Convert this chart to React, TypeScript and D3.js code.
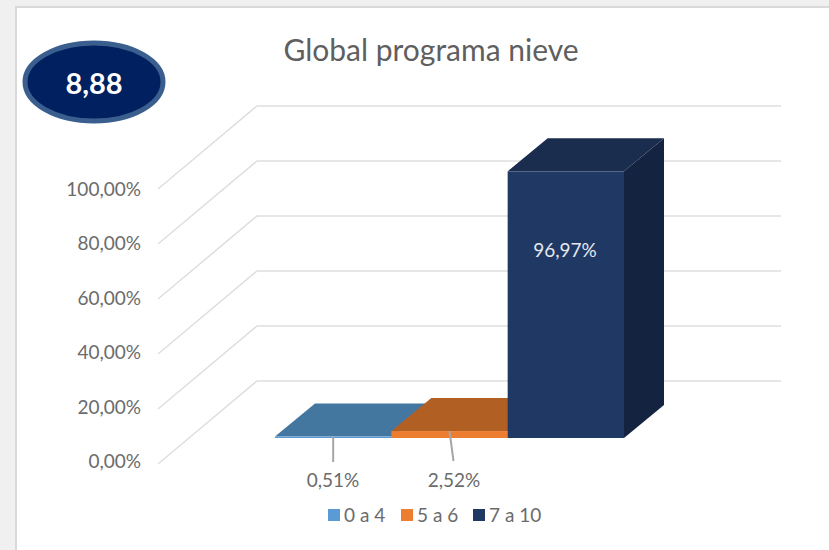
import React from 'react';
import * as d3 from 'd3';

const title = 'Global programa nieve';
const badge = '8,88';
const categories = ['0 a 4', '5 a 6', '7 a 10'];
const values = [0.51, 2.52, 96.97];
const valueLabels = ['0,51%', '2,52%', '96,97%'];
const tickValues = [0, 20, 40, 60, 80, 100];
const tickLabels = ['0,00%', '20,00%', '40,00%', '60,00%', '80,00%', '100,00%'];
const frontColors = ['#5b9bd5', '#ed7d31', '#1f3864'];
const topColors = ['#44779f', '#b25f24', '#1a2d4f'];
const sideColors = ['#3c6a90', '#9c5220', '#14233f'];
const legendColors = ['#5b9bd5', '#ed7d31', '#1f3864'];

const width = 829;
const height = 550;

// back wall of the 3d box
const wallY = d3.scaleLinear().domain([0, 100]).range([381, 106]);
const wallLeft = 257;
const wallRight = 781;
const wallDx = -99;
const wallDy = 83;

// bars stand in the middle of the floor
const barBase = 438;
const barY = d3.scaleLinear().domain([0, 100]).range([barBase, barBase - 275]);
const barX = d3.scaleBand().domain(categories).range([275, 624]);
const barDx = 40;
const barDy = -33;

const labelY = d3.scaleLinear().domain([0, 100]).range([460, 188]);

const poly = (pts: [number, number][]) => pts.map(p => p.join(',')).join(' ');

const TEXT = 'Lato, sans-serif';

export default function App() {
  const w = barX.bandwidth();
  return (
    <svg width={width} height={height} style={{ position: 'fixed', left: 0, top: 0 }} fontFamily={TEXT}>
      <rect x={0} y={0} width={width} height={height} fill="#f0f0f0" />
      <rect x={16} y={7} width={width} height={height} fill="#ffffff" stroke="#d9d9d9" strokeWidth={2} />

      <text x={431} y={61} textAnchor="middle" fontSize={30} fill="#5f5f5f">{title}</text>

      <ellipse cx={94} cy={82} rx={69} ry={39} fill="#002060" stroke="#3a5f8f" strokeWidth={5} />
      <text x={94} y={94} textAnchor="middle" fontSize={29} fontWeight={700} fill="#ffffff">{badge}</text>

      <g stroke="#dedede" strokeWidth={1.5} fill="none">
        {tickValues.map(t => (
          <polyline key={t} points={poly([
            [wallLeft + wallDx, wallY(t) + wallDy],
            [wallLeft, wallY(t)],
            [wallRight, wallY(t)],
          ])} />
        ))}
      </g>

      <g textAnchor="end" fontSize={19} fill="#6b6b6b">
        {tickValues.map((t, i) => (
          <text key={t} x={141} y={labelY(t) + 8}>{tickLabels[i]}</text>
        ))}
      </g>

      {categories.map((c, i) => {
        const x0 = barX(c) as number;
        const x1 = x0 + w;
        const top = barY(values[i]);
        return (
          <g key={c}>
            <polygon points={poly([[x1, barBase], [x1 + barDx, barBase + barDy], [x1 + barDx, top + barDy], [x1, top]])} fill={sideColors[i]} />
            <polygon points={poly([[x0, top], [x1, top], [x1 + barDx, top + barDy], [x0 + barDx, top + barDy]])} fill={topColors[i]} />
            <rect x={x0} y={top} width={w} height={barBase - top} fill={frontColors[i]} />
          </g>
        );
      })}

      <g stroke="#a6a6a6" strokeWidth={2}>
        <line x1={(barX(categories[0]) as number) + w / 2} y1={barY(values[0])} x2={(barX(categories[0]) as number) + w / 2} y2={462} />
        <line x1={(barX(categories[1]) as number) + w / 2} y1={barY(values[1])} x2={(barX(categories[1]) as number) + w / 2 + 4} y2={461} />
      </g>

      <g textAnchor="middle" fontSize={19} fill="#6b6b6b">
        <text x={333} y={487}>{valueLabels[0]}</text>
        <text x={454} y={487}>{valueLabels[1]}</text>
      </g>
      <text x={565} y={257} textAnchor="middle" fontSize={19} fill="#e4e8ef">{valueLabels[2]}</text>

      <g fontSize={19} fill="#6b6b6b">
        {categories.map((c, i) => {
          const lx = [328, 401, 473][i];
          return (
            <g key={c}>
              <rect x={lx} y={509} width={12} height={12} fill={legendColors[i]} />
              <text x={lx + 16} y={522}>{c}</text>
            </g>
          );
        })}
      </g>
    </svg>
  );
}
